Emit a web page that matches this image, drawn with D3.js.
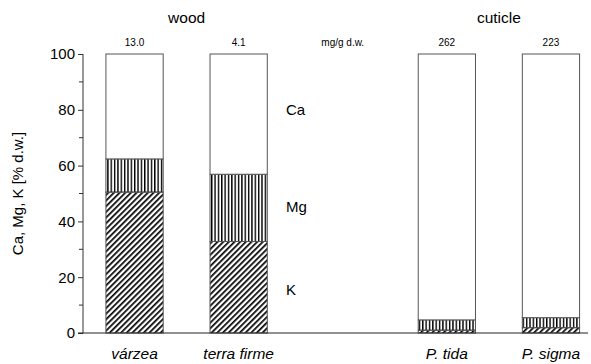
<!DOCTYPE html>
<html>
<head>
<meta charset="utf-8">
<script src="https://cdn.jsdelivr.net/npm/d3@7"></script>
<style>
  body { margin: 0; background: #fff; }
  svg { font-family: "Liberation Sans", Arial, sans-serif; }
</style>
</head>
<body>
<div id="chart"></div>
<script>
// categories (the empty slot holds the "mg/g d.w." label)
const categories = ['várzea', 'terra firme', '', 'P. tida', 'P. sigma'];
const barCategories = ['várzea', 'terra firme', 'P. tida', 'P. sigma'];
const kValues = [50.5, 32.8, 1.0, 1.9];
const mgValues = [11.9, 24.1, 3.7, 3.6];
const caValues = [37.6, 43.1, 95.3, 94.5];
const totals = ['13.0', '4.1', '262', '223'];
const yTicks = [0, 20, 40, 60, 80, 100];
const yMinor = [10, 30, 50, 70, 90];
const seriesNames = ['K', 'Mg', 'Ca'];

const W = 591, H = 364;
const svg = d3.select('#chart').append('svg').attr('width', W).attr('height', H);

// hatch patterns
const defs = svg.append('defs');
defs.append('pattern')
  .attr('id', 'diag')
  .attr('patternUnits', 'userSpaceOnUse')
  .attr('width', 4).attr('height', 4)
  .attr('patternTransform', 'rotate(45)')
  .append('rect').attr('x', 0).attr('y', 0).attr('width', 1.7).attr('height', 4).attr('fill', '#000');
defs.append('pattern')
  .attr('id', 'vert')
  .attr('patternUnits', 'userSpaceOnUse')
  .attr('width', 3.35).attr('height', 4)
  .append('rect').attr('x', 0).attr('y', 0).attr('width', 1.4).attr('height', 4).attr('fill', '#000');

const fills = { K: 'url(#diag)', Mg: 'url(#vert)', Ca: '#fff' };

const x = d3.scaleBand()
  .domain(categories)
  .range([82.5, 603])
  .paddingInner(0.45)
  .paddingOuter(0.225);

const y = d3.scaleLinear().domain([0, 100]).range([333, 54]);

// stacked bars
const rows = barCategories.map((c, i) => ({ cat: c, K: kValues[i], Mg: mgValues[i], Ca: caValues[i] }));
const stacked = d3.stack().keys(seriesNames)(rows);

const bars = svg.append('g');
stacked.forEach((layer) => {
  bars.append('g')
    .selectAll('rect')
    .data(layer)
    .join('rect')
    .attr('x', (d) => x(d.data.cat))
    .attr('y', (d) => y(d[1]))
    .attr('width', x.bandwidth())
    .attr('height', (d) => y(d[0]) - y(d[1]))
    .attr('fill', fills[layer.key])
    .attr('stroke', '#555')
    .attr('stroke-width', 1);
});

// y axis
const yAxis = svg.append('g').attr('transform', 'translate(83,0)');
yAxis.call(d3.axisLeft(y).tickValues(yTicks).tickSize(5).tickPadding(3))
  .call((g) => g.select('.domain').attr('stroke', '#333').attr('d', `M0,${y(100)}V${y(0)}`))
  .call((g) => g.selectAll('.tick line').attr('stroke', '#333'))
  .selectAll('text')
  .style('font-size', '15px')
  .attr('fill', '#000');
yAxis.append('g')
  .selectAll('line')
  .data(yMinor)
  .join('line')
  .attr('x1', -4).attr('x2', 0)
  .attr('y1', (d) => y(d)).attr('y2', (d) => y(d))
  .attr('stroke', '#333');

// baseline
svg.append('line')
  .attr('x1', 78).attr('x2', 588)
  .attr('y1', y(0)).attr('y2', y(0))
  .attr('stroke', '#222').attr('stroke-width', 1.2);

// category labels
svg.append('g')
  .selectAll('text')
  .data(barCategories)
  .join('text')
  .attr('x', (d) => x(d) + x.bandwidth() / 2)
  .attr('y', 359)
  .attr('text-anchor', 'middle')
  .style('font-size', '15.5px')
  .style('font-style', 'italic')
  .text((d) => d);

// totals
svg.append('g')
  .selectAll('text')
  .data(barCategories)
  .join('text')
  .attr('x', (d) => x(d) + x.bandwidth() / 2)
  .attr('y', 46)
  .attr('text-anchor', 'middle')
  .style('font-size', '10px')
  .text((d, i) => totals[i]);

svg.append('text')
  .attr('x', x('') + x.bandwidth() / 2)
  .attr('y', 46)
  .attr('text-anchor', 'middle')
  .style('font-size', '10px')
  .text('mg/g d.w.');

// group titles
svg.append('text')
  .attr('x', (x('várzea') + x('terra firme') + x.bandwidth()) / 2)
  .attr('y', 23)
  .attr('text-anchor', 'middle')
  .style('font-size', '15.5px')
  .text('wood');
svg.append('text')
  .attr('x', (x('P. tida') + x('P. sigma') + x.bandwidth()) / 2)
  .attr('y', 23)
  .attr('text-anchor', 'middle')
  .style('font-size', '15.5px')
  .text('cuticle');

// series labels
const seriesY = { Ca: 80, Mg: 45, K: 15.5 };
svg.append('g')
  .selectAll('text')
  .data(['Ca', 'Mg', 'K'])
  .join('text')
  .attr('x', 286)
  .attr('y', (d) => y(seriesY[d]) + 5)
  .style('font-size', '15px')
  .text((d) => d);

// y axis title
svg.append('text')
  .attr('transform', `translate(23,${y(50)}) rotate(-90)`)
  .attr('text-anchor', 'middle')
  .style('font-size', '15px')
  .text('Ca, Mg, K [% d.w.]');
</script>
</body>
</html>
